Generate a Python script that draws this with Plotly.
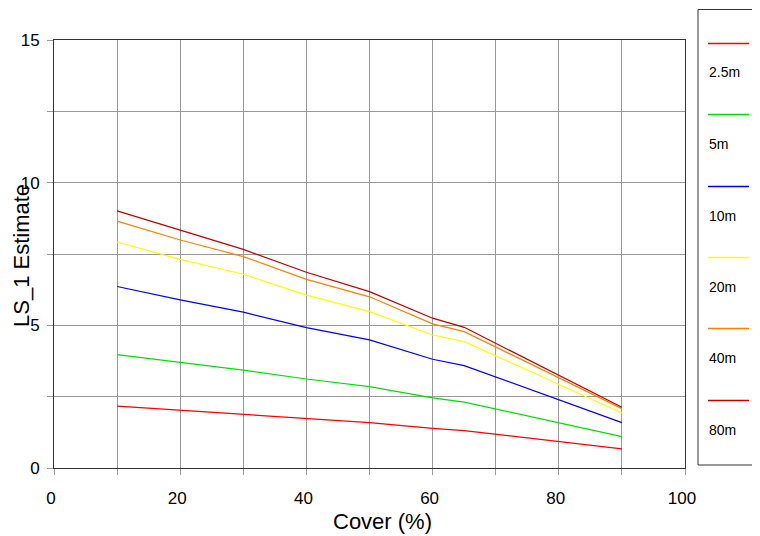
import plotly.graph_objects as go

cover = [10, 20, 30, 40, 50, 60, 65, 90]
series_names = ["2.5m", "5m", "10m", "20m", "40m", "80m"]
est_2_5m = [2.17, 2.03, 1.88, 1.74, 1.59, 1.39, 1.31, 0.67]
est_5m = [3.97, 3.70, 3.43, 3.12, 2.85, 2.46, 2.31, 1.10]
est_10m = [6.36, 5.89, 5.46, 4.92, 4.49, 3.81, 3.59, 1.59]
est_20m = [7.92, 7.31, 6.79, 6.06, 5.48, 4.66, 4.43, 1.93]
est_40m = [8.65, 7.99, 7.41, 6.61, 6.00, 5.05, 4.78, 2.08]
est_80m = [9.01, 8.34, 7.66, 6.86, 6.18, 5.25, 4.93, 2.13]
series_values = [est_2_5m, est_5m, est_10m, est_20m, est_40m, est_80m]
colors = ["#FF0000", "#00E000", "#0000FF", "#FFFF00", "#FF8000", "#C00000"]

x_ticks = [0, 20, 40, 60, 80, 100]
y_ticks = [0, 5, 10, 15]

# page body has an 8px default margin; work in window pixels and compensate
OFF = 8
W, H = 760 - OFF, 536 - OFF
PL, PR, PT, PB = 54, 685, 40, 468   # plot area in window pixels
L, R, T, B = PL - OFF, (W + OFF) - PR, PT - OFF, (H + OFF) - PB
pw, ph = PR - PL, PB - PT

def px(xp):
    return (xp - PL) / pw

def py(yp):
    return (PB - yp) / ph

fig = go.Figure()
for name, vals, col in zip(series_names, series_values, colors):
    fig.add_trace(go.Scatter(x=cover, y=vals, mode="lines", name=name,
                             line=dict(color=col, width=1.2), showlegend=False))

font = "Liberation Sans, Arial, sans-serif"
grid = "#9a9a9a"
axis_common = dict(showline=True, linecolor="#333333", linewidth=1, mirror=True,
                   showgrid=True, gridcolor=grid, gridwidth=1,
                   ticks="outside", ticklen=6, tickcolor=grid,
                   zeroline=False, tickfont=dict(family=font, size=17, color="#000"))

fig.update_layout(
    width=W, height=H,
    margin=dict(l=L, r=R, t=T, b=B, autoexpand=False),
    paper_bgcolor="white", plot_bgcolor="white",
    xaxis=dict(range=[0, 100], tickvals=x_ticks, ticklabelstandoff=9, ticklabelshift=-3,
               minor=dict(tickvals=[10, 30, 50, 70, 90], ticks="outside", ticklen=6,
                          tickcolor=grid, showgrid=True, gridcolor=grid, gridwidth=1),
               **axis_common),
    yaxis=dict(range=[0, 15], tickvals=y_ticks, ticklabelstandoff=4,
               minor=dict(tickvals=[2.5, 7.5, 12.5], ticks="outside", ticklen=6,
                          tickcolor=grid, showgrid=True, gridcolor=grid, gridwidth=1),
               **axis_common),
    font=dict(family=font, color="#000"),
)

ann = []
ann.append(dict(text="Cover (%)", xref="paper", yref="paper", x=px(383), y=py(521),
                xanchor="center", yanchor="middle", showarrow=False,
                font=dict(family=font, size=22, color="#000")))
ann.append(dict(text="LS_1 Estimate", xref="paper", yref="paper", x=px(21), y=py(256),
                xanchor="center", yanchor="middle", textangle=-90, showarrow=False,
                font=dict(family=font, size=22, color="#000")))

shapes = []
shapes.append(dict(type="rect", xref="paper", yref="paper",
                   x0=px(698), x1=px(770), y0=py(465), y1=py(9.5),
                   line=dict(color="#333333", width=1), fillcolor="rgba(0,0,0,0)"))
for i, (name, col) in enumerate(zip(series_names, colors)):
    ly = round(43 + 71.3 * i) + 0.5
    shapes.append(dict(type="line", xref="paper", yref="paper",
                       x0=px(708), x1=px(749), y0=py(ly), y1=py(ly),
                       line=dict(color=col, width=1.5)))
    ann.append(dict(text=name, xref="paper", yref="paper", x=px(707), y=py(ly + 29),
                    xanchor="left", yanchor="middle", showarrow=False,
                    font=dict(family=font, size=14, color="#000")))

fig.update_layout(annotations=ann, shapes=shapes)
fig.write_html("out.html")
